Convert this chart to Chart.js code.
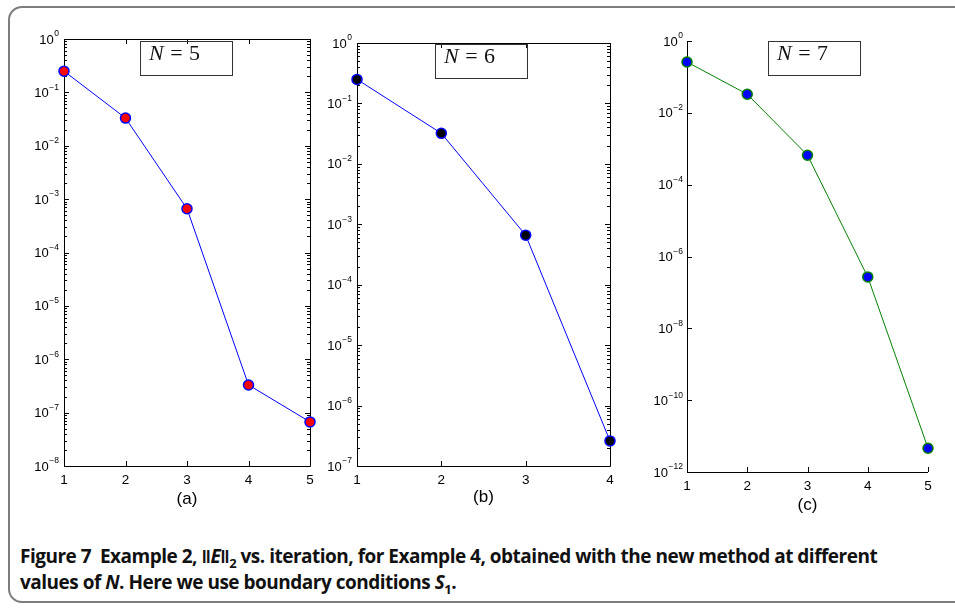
<!DOCTYPE html>
<html>
<head>
<meta charset="utf-8">
<script src="https://cdn.jsdelivr.net/npm/chart.js@4.4.1/dist/chart.umd.min.js"></script>
<style>
body{margin:0;background:#fff;width:955px;height:608px;overflow:hidden;position:relative;font-family:"Liberation Sans",Arial,sans-serif}
#frame{position:absolute;left:8px;top:6px;width:990px;height:597px;border:2px solid #7d7d7d;border-radius:14px;box-sizing:border-box}
canvas{position:absolute;top:0}
.nbox{position:absolute;border:1px solid #333;height:35px;width:93px;box-sizing:border-box;font-family:"Liberation Serif","DejaVu Serif",serif;font-size:22px;padding-left:8px;line-height:22px;color:#111;word-spacing:1px}
#caption{position:absolute;left:20px;top:543px;font-family:"Open Sans",sans-serif;font-weight:700;font-size:19px;line-height:26px;color:#111;letter-spacing:-0.5px}
#caption sub{font-size:13px;line-height:0}
</style>
</head>
<body>
<div id="frame"></div>
<canvas id="ca" width="320" height="520" style="left:0px"></canvas>
<canvas id="cb" width="320" height="520" style="left:300px"></canvas>
<canvas id="cc" width="335" height="520" style="left:620px"></canvas>
<div class="nbox" style="left:140px;top:41px"><i>N</i> = 5</div>
<div class="nbox" style="left:435px;top:44px"><i>N</i> = 6</div>
<div class="nbox" style="left:768px;top:41px"><i>N</i> = 7</div>
<div id="caption">
<div>Figure 7&nbsp; Example 2, ‖<i>E</i>‖<sub>2</sub> vs. iteration, for Example 4, obtained with the new method at different</div>
<div>values of <i>N</i>. Here we use boundary conditions <i>S</i><sub>1</sub>.</div>
</div>
<script>
// iterations
var itersA = [1, 2, 3, 4, 5];
var itersB = [1, 2, 3, 4];
var itersC = [1, 2, 3, 4, 5];

// ||E||_2
var errA = [0.25, 0.033, 6.6e-4, 3.3e-7, 6.7e-8];
var errB = [0.25, 0.032, 6.6e-4, 2.6e-7];
var errC = [0.26, 0.033, 6.6e-4, 2.7e-7, 4.6e-12];

// labelled y ticks
var yTicksA = [1, 1e-1, 1e-2, 1e-3, 1e-4, 1e-5, 1e-6, 1e-7, 1e-8];
var yTicksB = [1, 1e-1, 1e-2, 1e-3, 1e-4, 1e-5, 1e-6, 1e-7];
var yTicksC = [1, 1e-2, 1e-4, 1e-6, 1e-8, 1e-10, 1e-12];

var panelTitles = ['(a)', '(b)', '(c)'];

var FONT = '"Liberation Sans", Arial, sans-serif';

function expOf(v){
    return String(Math.round(Math.log10(v))).replace('-', '\u2212');
}

// frame, inward ticks and 10^n labels
var framePlugin = {
    id: 'frame',
    beforeDatasetsDraw: function(chart, args, opts){
        var ctx = chart.ctx, a = chart.chartArea, xs = chart.scales.x, ys = chart.scales.y;
        ctx.save();
        ctx.strokeStyle = '#000';
        ctx.lineWidth = 1;
        ctx.beginPath();
        if (opts.box) {
            ctx.rect(a.left + 0.5, a.top + 0.5, a.right - a.left, a.bottom - a.top);
        } else {
            ctx.moveTo(a.left + 0.5, a.top);
            ctx.lineTo(a.left + 0.5, a.bottom + 0.5);
            ctx.lineTo(a.right, a.bottom + 0.5);
        }
        ys.ticks.forEach(function(t){
            var p = Math.round(ys.getPixelForValue(t.value)) + 0.5;
            ctx.moveTo(a.left, p); ctx.lineTo(a.left + 5, p);
            if (opts.box) { ctx.moveTo(a.right, p); ctx.lineTo(a.right - 5, p); }
            if (opts.minor) {
                for (var m = 2; m <= 9; m++) {
                    var v = t.value * m;
                    if (v > ys.max * 1.0001) continue;
                    var q = Math.round(ys.getPixelForValue(v)) + 0.5;
                    ctx.moveTo(a.left, q); ctx.lineTo(a.left + 3, q);
                    ctx.moveTo(a.right, q); ctx.lineTo(a.right - 3, q);
                }
            }
        });
        xs.ticks.forEach(function(t){
            var p = Math.round(xs.getPixelForValue(t.value)) + 0.5;
            ctx.moveTo(p, a.bottom); ctx.lineTo(p, a.bottom - 5);
            if (opts.box) { ctx.moveTo(p, a.top); ctx.lineTo(p, a.top + 5); }
        });
        ctx.stroke();

        ctx.fillStyle = '#000';
        ctx.textAlign = 'right';
        ctx.textBaseline = 'middle';
        ys.ticks.forEach(function(t){
            var p = ys.getPixelForValue(t.value);
            var e = expOf(t.value);
            var xr = a.left - opts.pad;
            ctx.font = '8.5px ' + FONT;
            var ew = ctx.measureText(e).width;
            ctx.fillText(e, xr, p - 5);
            ctx.font = '13px ' + FONT;
            ctx.fillText('10', xr - ew - 0.5, p + 1);
        });
        ctx.restore();
    }
};

function makePanel(id, iters, errs, yTicks, title, cfg){
    return new Chart(document.getElementById(id), {
        type: 'line',
        data: {
            datasets: [{
                data: iters.map(function(x, i){ return {x: x, y: errs[i]}; }),
                borderColor: cfg.line,
                borderWidth: 1,
                pointBackgroundColor: cfg.fill,
                pointBorderColor: cfg.edge,
                pointBorderWidth: 1.5,
                pointRadius: 5,
                tension: 0,
                clip: false
            }]
        },
        options: {
            responsive: false,
            animation: false,
            layout: {padding: {top: cfg.top, right: cfg.right, left: 0, bottom: 0}},
            plugins: {
                legend: {display: false},
                tooltip: {enabled: false},
                frame: {box: cfg.box, minor: cfg.minor, pad: cfg.pad}
            },
            scales: {
                x: {
                    type: 'linear',
                    min: iters[0],
                    max: iters[iters.length - 1],
                    afterBuildTicks: function(s){ s.ticks = iters.map(function(v){ return {value: v}; }); },
                    afterFit: function(s){ s.height = cfg.xH; },
                    grid: {display: false, drawTicks: false},
                    border: {display: false},
                    ticks: {padding: 6, color: '#000', font: {family: FONT, size: 13.5}},
                    title: {display: true, text: title, color: '#000',
                        font: {family: FONT, size: 17},
                        padding: {top: 0, bottom: cfg.titlePad}}
                },
                y: {
                    type: 'logarithmic',
                    min: yTicks[yTicks.length - 1],
                    max: 1,
                    afterBuildTicks: function(s){ s.ticks = yTicks.map(function(v){ return {value: v}; }); },
                    afterFit: function(s){ s.width = cfg.yW; },
                    grid: {display: false, drawTicks: false},
                    border: {display: false},
                    ticks: {display: false}
                }
            }
        },
        plugins: [framePlugin]
    });
}

makePanel('ca', itersA, errA, yTicksA, panelTitles[0],
    {line: '#0000ff', fill: '#ff0000', edge: '#0000ff', box: true, minor: true, pad: 5,
     top: 39, right: 10, yW: 64, xH: 54, titlePad: 10});
makePanel('cb', itersB, errB, yTicksB, panelTitles[1],
    {line: '#0000ff', fill: '#000000', edge: '#0000ff', box: true, minor: true, pad: 5,
     top: 43, right: 10, yW: 57, xH: 54, titlePad: 12});
makePanel('cc', itersC, errC, yTicksC, panelTitles[2],
    {line: '#008000', fill: '#0000ff', edge: '#008000', box: false, minor: false, pad: 4,
     top: 41, right: 27, yW: 67, xH: 48, titlePad: 4});
</script>
</body>
</html>
